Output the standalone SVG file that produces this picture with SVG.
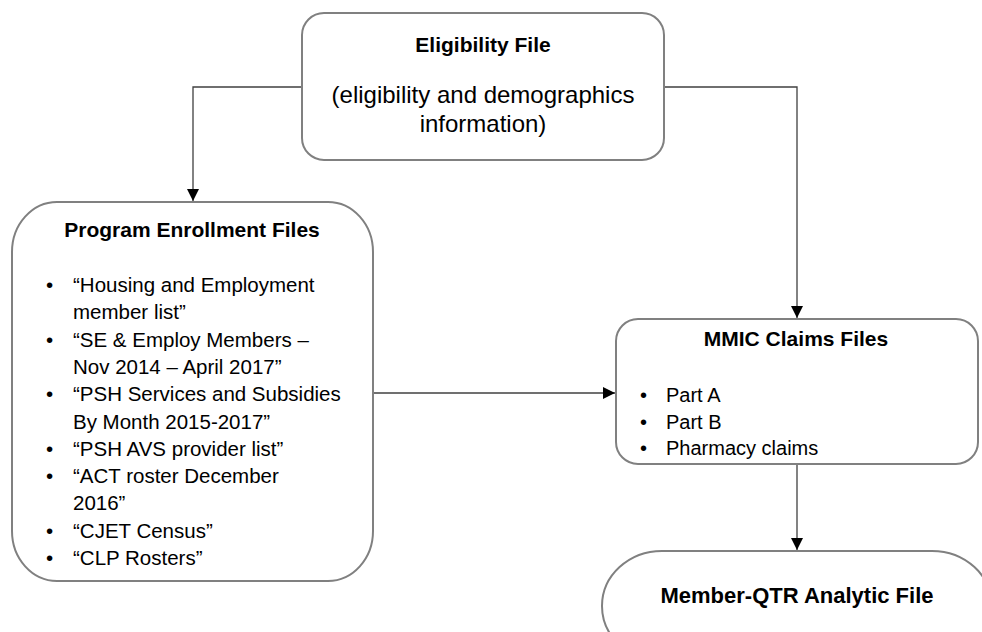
<svg xmlns="http://www.w3.org/2000/svg" width="982" height="632" viewBox="0 0 982 632">
<defs>
<style>
.box{fill:#ffffff;stroke:#808080;stroke-width:2}
.conn{fill:none;stroke:#404040;stroke-width:1.3}
text{font-family:"Liberation Sans",Arial,sans-serif;fill:#000000}
.t{font-size:21px;font-weight:bold;text-anchor:middle}
.b{font-size:20.5px}
.m{font-size:20px}
.c{font-size:24px;text-anchor:middle}
</style>
<marker id="ah" viewBox="0 0 12 12" refX="12" refY="6" markerWidth="12" markerHeight="12" markerUnits="userSpaceOnUse" orient="auto">
<path d="M0,0 L12,6 L0,12 Z" fill="#000000"/>
</marker>
</defs>
<rect width="982" height="632" fill="#ffffff"/>
<g id="connectors">
<path class="conn" d="M302,87 H193 V201" marker-end="url(#ah)"/>
<path class="conn" d="M664,87 H797 V318" marker-end="url(#ah)"/>
<path class="conn" d="M373,393 H615" marker-end="url(#ah)"/>
<path class="conn" d="M797,465 V550" marker-end="url(#ah)"/>
</g>
<g id="eligibility">
<rect class="box" x="302" y="13" width="362" height="147" rx="22" ry="22"/>
<text class="t" x="483" y="52">Eligibility File</text>
<text class="c" x="483" y="103">(eligibility and demographics</text>
<text class="c" x="483" y="132">information)</text>
</g>
<g id="program">
<rect class="box" x="12" y="202" width="361" height="379" rx="45" ry="50"/>
<text class="t" x="192" y="237">Program Enrollment Files</text>
<g class="b">
<text x="46" y="292">•</text><text x="73" y="292">“Housing and Employment</text>
<text x="73" y="319">member list”</text>
<text x="46" y="347">•</text><text x="73" y="347">“SE &amp; Employ Members –</text>
<text x="73" y="374">Nov 2014 – April 2017”</text>
<text x="46" y="401">•</text><text x="73" y="401">“PSH Services and Subsidies</text>
<text x="73" y="429">By Month 2015-2017”</text>
<text x="46" y="456">•</text><text x="73" y="456">“PSH AVS provider list”</text>
<text x="46" y="483">•</text><text x="73" y="483">“ACT roster December</text>
<text x="73" y="510">2016”</text>
<text x="46" y="538">•</text><text x="73" y="538">“CJET Census”</text>
<text x="46" y="565">•</text><text x="73" y="565">“CLP Rosters”</text>
</g>
</g>
<g id="mmic">
<rect class="box" x="616" y="319" width="362" height="145" rx="22" ry="22"/>
<text class="t" x="796" y="346">MMIC Claims Files</text>
<g class="m">
<text x="640" y="402">•</text><text x="666" y="402">Part A</text>
<text x="640" y="429">•</text><text x="666" y="429">Part B</text>
<text x="640" y="455">•</text><text x="666" y="455">Pharmacy claims</text>
</g>
</g>
<g id="member-qtr">
<rect class="box" x="602" y="551" width="390" height="110" rx="60" ry="55"/>
<text class="t" x="797" y="603" style="font-size:22px">Member-QTR Analytic File</text>
</g>
</svg>
